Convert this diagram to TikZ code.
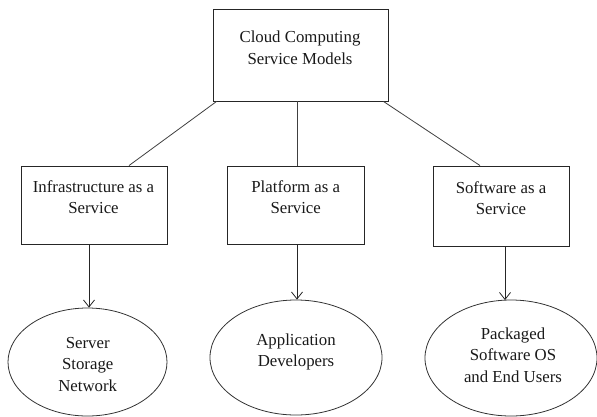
\documentclass[tikz,border=0pt]{standalone}
\usepackage{fontspec}
\setmainfont{Liberation Serif}
\usetikzlibrary{arrows.meta,shapes.geometric}
\begin{document}
\begin{tikzpicture}[x=1pt,y=-1pt,
  box/.style={draw=black!85,line width=0.9pt,rectangle,inner sep=0pt},
  oval/.style={draw=black!80,line width=0.8pt,ellipse,inner sep=0pt},
  lbl/.style={align=center,anchor=base,inner sep=0pt,text=black!90,font=\fontsize{16.8}{21.5}\selectfont},
  conn/.style={draw=black!75,line width=0.8pt},
  arr/.style={draw=black!85,line width=0.8pt,-{Straight Barb[length=7pt,width=11pt]}}]
\useasboundingbox (0,0) rectangle (597,416);
% boxes
\node[box,minimum width=175pt,minimum height=92pt] (top) at (300.5,55) {};
\node[box,minimum width=146pt,minimum height=78pt] (iaas) at (94,205) {};
\node[box,minimum width=137pt,minimum height=78pt] (paas) at (295.5,205) {};
\node[box,minimum width=136pt,minimum height=80pt] (saas) at (501,206) {};
% ellipses
\node[oval,minimum width=159pt,minimum height=108pt] (e1) at (87.5,362) {};
\node[oval,minimum width=172pt,minimum height=115pt] (e2) at (296,357.5) {};
\node[oval,minimum width=172pt,minimum height=116pt] (e3) at (511,358) {};
% texts (anchored at baseline of last line)
\node[lbl] (ttop) at (300,64) {Cloud Computing\\Service Models};
\node[lbl] (tiaas) at (93.5,213.5) {Infrastructure as a\\Service};
\node[lbl] (tpaas) at (295.7,213.5) {Platform as a\\Service};
\node[lbl] (tsaas) at (501,214.5) {Software as a\\Service};
\node[lbl] (te1) at (87.7,391) {Server\\Storage\\Network};
\node[lbl] (te2) at (296,366.5) {Application\\Developers};
\node[lbl] (te3) at (513,382) {Packaged\\Software OS\\and End Users};
% connectors
\draw[conn] ([xshift=4pt]top.south west) -- ([xshift=35pt]iaas.north);
\draw[conn] ([xshift=-3.5pt]top.south) -- ([xshift=1.5pt]paas.north);
\draw[conn] ([xshift=-5pt]top.south east) -- ([xshift=-21pt]saas.north);
\draw[arr] ([xshift=-5pt]iaas.south) -- ([xshift=1.5pt]e1.north);
\draw[arr] ([xshift=1.5pt]paas.south) -- ([xshift=1pt]e2.north);
\draw[arr] ([xshift=4pt]saas.south) -- ([xshift=-6pt,yshift=-0.5pt]e3.north);
\end{tikzpicture}
\end{document}
